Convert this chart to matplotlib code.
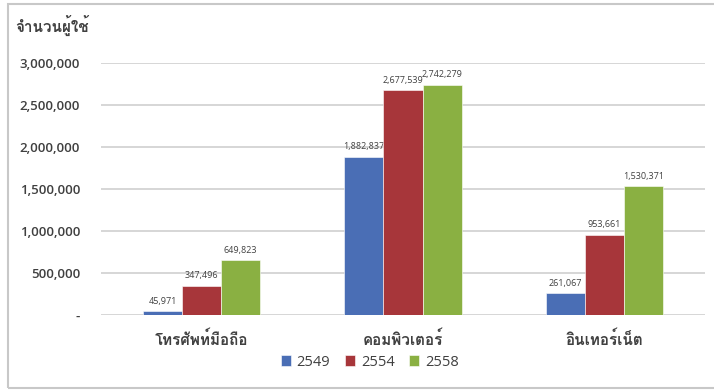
import matplotlib
matplotlib.use("Agg")
import matplotlib.pyplot as plt
from matplotlib.patches import Rectangle
import numpy as np

# data
categories = ["โทรศัพท์มือถือ", "คอมพิวเตอร์", "อินเทอร์เน็ต"]
years = ["2549", "2554", "2558"]
users_2549 = [45971, 1882837, 261067]
users_2554 = [347496, 2677539, 953661]
users_2558 = [649823, 2742279, 1530371]
yticks = [0, 500000, 1000000, 1500000, 2000000, 2500000, 3000000]
ytick_labels = ["-", "500,000", "1,000,000", "1,500,000", "2,000,000", "2,500,000", "3,000,000"]

colors = ["#4A6EB5", "#A7363A", "#8AB042"]
thai = ["Loma", "Noto Sans Thai Looped", "DejaVu Sans"]
latin = ["Open Sans", "DejaVu Sans"]
txt = "#404040"

fig = plt.figure(figsize=(7.14, 3.9), dpi=100)
ax = fig.add_axes([101 / 714, 1 - 315 / 390, 604 / 714, 252 / 390])

x = np.arange(len(categories))
w = 0.194
series = [users_2549, users_2554, users_2558]
for i, vals in enumerate(series):
    ax.bar(x + (i - 1) * w, vals, w, color=colors[i], edgecolor="white",
           linewidth=0.4, label=years[i], zorder=3)
    for xi, v in zip(x + (i - 1) * w, vals):
        ax.annotate(f"{v:,}", (xi, v), xytext=(0, 4), textcoords="offset points",
                    ha="center", va="bottom", fontsize=6.5, color=txt, family=latin)

ax.set_xlim(-0.5, 2.5)
ax.set_ylim(0, 3000000)
ax.set_yticks(yticks)
ax.set_yticklabels(ytick_labels, family=latin, fontsize=9.5, fontweight="semibold", color=txt)
ax.set_xticks(x)
ax.set_xticklabels(categories, family=thai, fontsize=11, fontweight="bold", color=txt)
ax.tick_params(axis="both", length=0)
ax.tick_params(axis="y", pad=15)
ax.tick_params(axis="x", pad=11)
ax.grid(axis="y", color="#CFCFCF", linewidth=1.2, zorder=0)
for s in ax.spines.values():
    s.set_visible(False)

fig.text(15 / 714, 1 - 25 / 390, "จำนวนผู้ใช้", family=thai, fontsize=11,
         fontweight="bold", color=txt, ha="left", va="center")

leg = ax.legend(loc="center", bbox_to_anchor=(0.518, 1 - 362 / 390), bbox_transform=fig.transFigure,
                ncol=3, frameon=False, handlelength=0.7, handleheight=0.7, handletextpad=0.4,
                columnspacing=1.0, prop={"family": latin, "size": 10.5})
for t in leg.get_texts():
    t.set_color(txt)

fig.add_artist(Rectangle((8 / 714, 2 / 390), 1.0, 384 / 390, transform=fig.transFigure,
                         fill=False, edgecolor="#C8C8C8", linewidth=1.5))

fig.savefig("out.png", dpi=100)
